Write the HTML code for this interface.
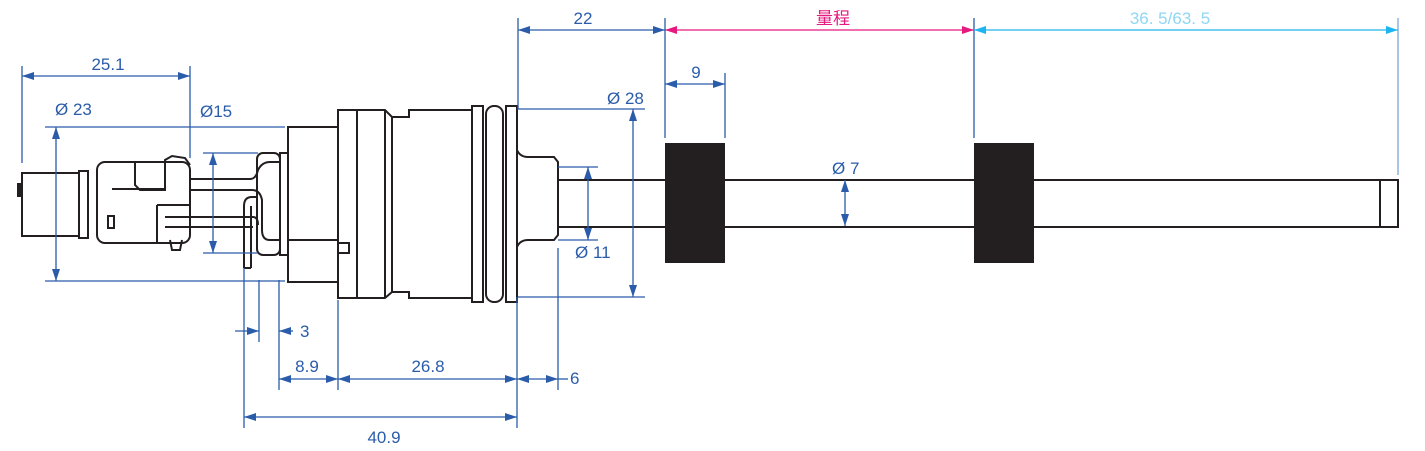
<!DOCTYPE html>
<html><head><meta charset="utf-8"><style>
html,body{margin:0;padding:0;background:#fff;}
svg{display:block;}
text{font-family:"Liberation Sans","Noto Sans CJK SC",sans-serif;font-size:17px;}
</style></head><body>
<svg width="1425" height="451" viewBox="0 0 1425 451" xmlns="http://www.w3.org/2000/svg">
<defs>
<marker id="ab" viewBox="0 0 12 8" refX="12" refY="4" markerWidth="12" markerHeight="8" markerUnits="userSpaceOnUse" orient="auto-start-reverse"><path d="M0,0L12,4L0,8z" fill="#2a5caa"/></marker>
<marker id="ap" viewBox="0 0 12 8" refX="12" refY="4" markerWidth="12" markerHeight="8" markerUnits="userSpaceOnUse" orient="auto-start-reverse"><path d="M0,0L12,4L0,8z" fill="#e6197f"/></marker>
<marker id="ac" viewBox="0 0 12 8" refX="12" refY="4" markerWidth="12" markerHeight="8" markerUnits="userSpaceOnUse" orient="auto-start-reverse"><path d="M0,0L12,4L0,8z" fill="#1eb4ef"/></marker>
</defs>

<!-- ===== Drawing (black) ===== -->
<g fill="none" stroke="#231f20" stroke-width="2">
<!-- connector plug -->
<rect x="22" y="173" width="57" height="63"/>
<rect x="18" y="184" width="4" height="12" fill="#231f20"/>
<rect x="79" y="171" width="9" height="67"/>
<rect x="97" y="162" width="93" height="81" rx="8"/>
<path d="M135,162 L135,185 L140,190 L165,190 L165,160 L172,156 L185,158 L190,165"/>
<path d="M112,189 L165,189" />
<path d="M157,205 L190,205 M157,205 L157,243 M165,217 L253,217 M165,227 L253,227"/>
<rect x="108" y="216" width="6" height="12"/>
<path d="M170,240 L172,250 L180,250 L182,240"/>
<!-- tubes -->
<path d="M190,179 L250,179 Q256,179 258,170 Q262,162 270,162 L280,162"/>
<path d="M190,190 L252,190 Q260,190 262,200 L262,230 Q262,240 270,240 L280,240"/>
<path d="M253,217 Q258,217 258,225" />
<!-- bracket -->
<rect x="257" y="153" width="23" height="102" rx="6"/>
<path d="M244,268 L244,206 Q244,197 252,197 L257,197"/>
<path d="M251,268 L251,206"/>
<path d="M244,268 L251,268"/>
<!-- rear housing -->
<rect x="280" y="153" width="8" height="102"/>
<rect x="288" y="127" width="50" height="155"/>
<path d="M288,240 L338,240"/>
<rect x="338" y="243" width="11" height="10"/>
<!-- main body -->
<rect x="338" y="110" width="19" height="188"/>
<path d="M357,110 L385,110 L392,117 L409,117 L409,110 L472,110 L472,298 L409,298 L409,292 L392,292 L385,298 L357,298"/>
<path d="M385,110 L385,298 M392,117 L392,292"/>
<rect x="472" y="106" width="11" height="196"/>
<rect x="486" y="106" width="17" height="196" rx="8"/>
<rect x="506" y="106" width="11" height="196"/>
<!-- nose -->
<path d="M517,150 Q520,157 528,157 L554,157 L558,162 L558,235 L554,240 L528,240 Q520,240 517,247"/>
<!-- shaft -->
<path d="M558,180 L1380,180 M558,227 L1380,227"/>
<rect x="1380" y="180" width="18" height="47"/>
</g>
<rect x="665" y="143" width="60" height="120" fill="#231f20"/>
<rect x="974" y="143" width="60" height="120" fill="#231f20"/>

<!-- ===== Dimensions (blue) ===== -->
<g stroke="#2a5caa" stroke-width="1.3" fill="none">
<!-- extension lines -->
<path d="M22,66 L22,163 M190,66 L190,158"/>
<path d="M45,127 L285,127 M45,281 L285,281"/>
<path d="M203,153 L258,153 M203,253 L258,253"/>
<path d="M518,18 L518,109 L645,109 M518,297 L645,297"/>
<path d="M665,18 L665,138 M974,18 L974,138 M725,73 L725,138"/>
<path d="M558,167 L598,167 M558,240 L598,240"/>
<path d="M244,268 L244,428 M259,280 L259,342 M279,280 L279,390 M338,300 L338,390 M517,297 L517,428 M558,248 L558,390"/>
<!-- dim lines with arrows -->
<path d="M22,76 L190,76" marker-start="url(#ab)" marker-end="url(#ab)"/>
<path d="M56,127 L56,281" marker-start="url(#ab)" marker-end="url(#ab)"/>
<path d="M213,153 L213,253" marker-start="url(#ab)" marker-end="url(#ab)"/>
<path d="M518,30 L665,30" marker-start="url(#ab)" marker-end="url(#ab)"/>
<path d="M665,84 L725,84" marker-start="url(#ab)" marker-end="url(#ab)"/>
<path d="M633,109 L633,297" marker-start="url(#ab)" marker-end="url(#ab)"/>
<path d="M588,167 L588,240" marker-start="url(#ab)" marker-end="url(#ab)"/>
<path d="M845,180 L845,226" marker-start="url(#ab)" marker-end="url(#ab)"/>
<path d="M235,331 L259,331" marker-end="url(#ab)"/>
<path d="M293,331 L279,331" marker-end="url(#ab)"/>
<path d="M279,379 L338,379" marker-start="url(#ab)" marker-end="url(#ab)"/>
<path d="M338,379 L517,379" marker-start="url(#ab)" marker-end="url(#ab)"/>
<path d="M517,379 L558,379" marker-start="url(#ab)" marker-end="url(#ab)"/>
<path d="M558,379 L568,379"/>
<path d="M244,417 L517,417" marker-start="url(#ab)" marker-end="url(#ab)"/>
</g>
<path d="M1398,18 L1398,175" stroke="#7fa6d8" stroke-width="1.3"/>
<path d="M665,30 L974,30" stroke="#e6197f" stroke-width="1.3" marker-start="url(#ap)" marker-end="url(#ap)"/>
<path d="M974,30 L1398,30" stroke="#1eb4ef" stroke-width="1.3" marker-start="url(#ac)" marker-end="url(#ac)"/>

<!-- labels -->
<g fill="#2a5caa">
<text x="108" y="70" text-anchor="middle">25.1</text>
<text x="55" y="115">Ø 23</text>
<text x="200" y="117">Ø15</text>
<text x="583" y="24" text-anchor="middle">22</text>
<text x="696" y="78" text-anchor="middle">9</text>
<text x="607" y="104">Ø 28</text>
<text x="575" y="258">Ø 11</text>
<text x="832" y="174">Ø 7</text>
<text x="300" y="337">3</text>
<text x="307" y="372" text-anchor="middle">8.9</text>
<text x="428" y="372" text-anchor="middle">26.8</text>
<text x="570" y="384">6</text>
<text x="384" y="443" text-anchor="middle">40.9</text>
</g>
<text x="833" y="24" text-anchor="middle" fill="#e6197f">量程</text>
<text x="1170" y="24" text-anchor="middle" fill="#8fd6f5">36. 5/63. 5</text>
</svg>
</body></html>
